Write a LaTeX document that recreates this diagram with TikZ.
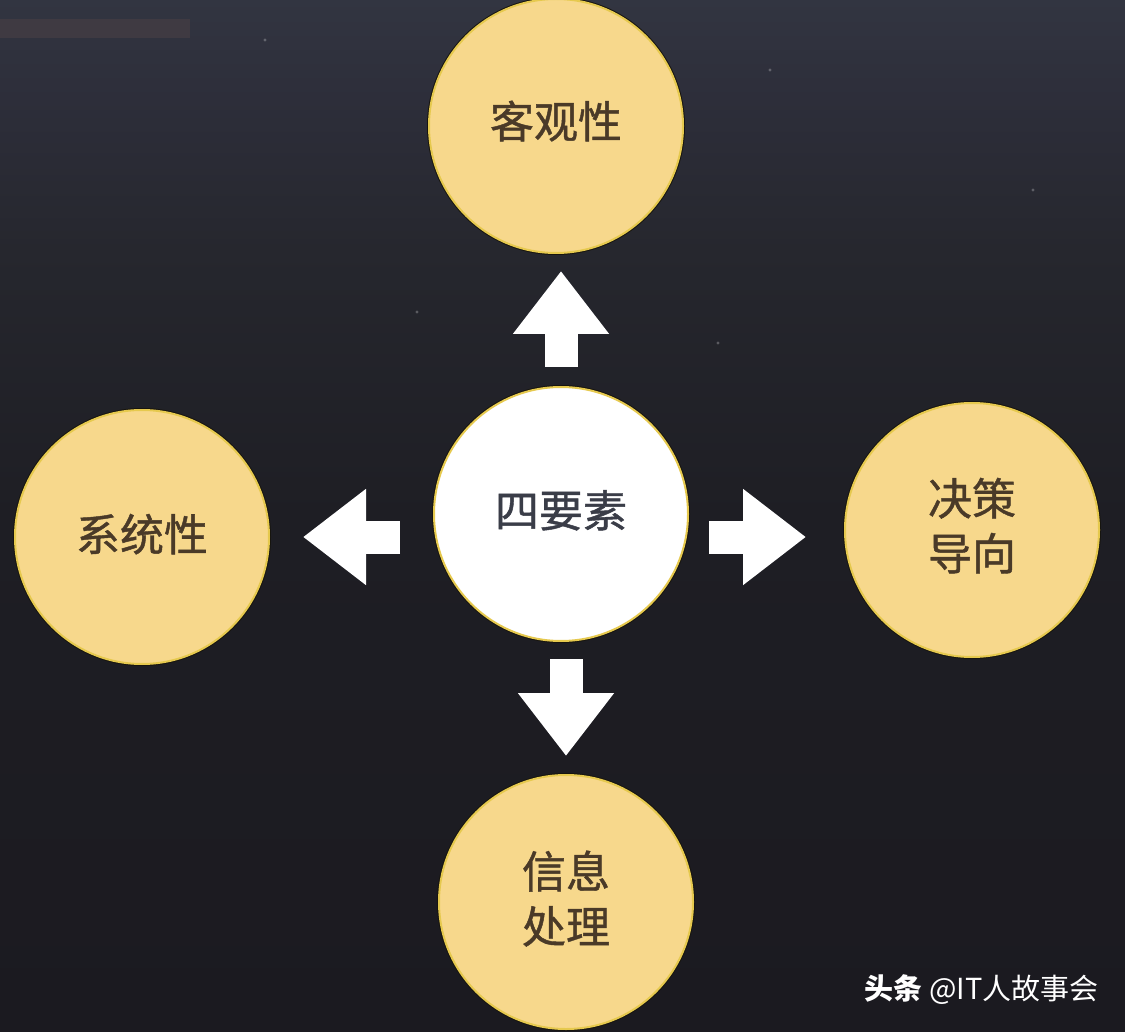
\documentclass[tikz,border=0pt]{standalone}
\usepackage{fontspec}
\setmainfont{Noto Sans CJK SC}
\newfontfamily\discfont[FakeBold=1]{Noto Sans CJK SC}
\usetikzlibrary{arrows.meta}
\definecolor{bgtop}{HTML}{323541}
\definecolor{bgupper}{HTML}{2D2E3A}
\definecolor{bgquarter}{HTML}{26272E}
\definecolor{bgmid}{HTML}{1E1E24}
\definecolor{bgbot}{HTML}{1B1A20}
\definecolor{gold}{HTML}{F7D88C}
\definecolor{goldedge}{HTML}{E6C94E}
\definecolor{rimdark}{HTML}{17150F}
\definecolor{ink}{HTML}{4A3A28}
\definecolor{inkcentre}{HTML}{3A3D48}
\definecolor{barcol}{HTML}{3F3A42}
\pgfdeclareverticalshading{bgfade}{100bp}{color(0bp)=(bgbot); color(25bp)=(bgbot); color(50bp)=(bgmid); color(62.9bp)=(bgquarter); color(70.2bp)=(bgupper); color(75bp)=(bgtop); color(100bp)=(bgtop)}
\newcommand{\lifted}[2]{\raisebox{#1}[\height][\depth]{\begin{tabular}{@{}c@{}}#2\end{tabular}}}
\tikzset{
  disc/.style={circle,minimum size=254pt,inner sep=0pt,align=center,
    font=\discfont\fontsize{44}{55}\selectfont,line width=2pt,
    preaction={draw=rimdark,line width=4pt}},
  golddisc/.style={disc,fill=gold,draw=goldedge,text=ink},
  whitedisc/.style={disc,fill=white,draw=goldedge,text=inkcentre},
  blockarrow/.style={draw=white,line width=33pt,
    -{Triangle[length=63pt,width=92pt,fill=white]}},
  speck/.style={fill=white,fill opacity=0.25,draw=none},
  marktext/.style={text=white,font=\fontsize{29}{34}\selectfont}
}
\begin{document}
\begin{tikzpicture}[x=1pt,y=-1pt]
\useasboundingbox (0,0) rectangle (1125,1032);
\shade[shading=bgfade] (0,0) rectangle (1125,1032);
\fill[barcol] (0,19) rectangle (190,38);
\foreach \p in {(265,40),(770,70),(1033,190),(417,312),(718,343)}
  \fill[speck] \p circle (1.6pt);

\node[whitedisc] (centre) at (561,514) {\lifted{-2pt}{四要素}};
\node[golddisc] (top) at (556,126) {\lifted{-1pt}{客观性}};
\node[golddisc] (left) at (142,537) {\lifted{-3pt}{系统性}};
\node[golddisc] (right) at (972,530) {\lifted{-1.5pt}{决策\\导向}};
\node[golddisc] (bottom) at (566,902) {\lifted{-2.5pt}{信息\\处理}};

\draw[blockarrow,shorten <=19pt,shorten >=17pt] (centre.north) -- (centre.north |- top.south);
\draw[blockarrow,shorten <=33pt,shorten >=33pt] (centre.west |- left.east) -- (left.east);
\draw[blockarrow,shorten <=20pt,shorten >=38pt] (centre.east |- left.east) -- (right.west |- left.east);
\draw[blockarrow,shorten <=17pt,shorten >=18pt] (bottom.north |- centre.south) -- (bottom.north);

\node[marktext,anchor=east] (mark) at (1102,990) {\textbf{头条} @IT人故事会};
\end{tikzpicture}
\end{document}
